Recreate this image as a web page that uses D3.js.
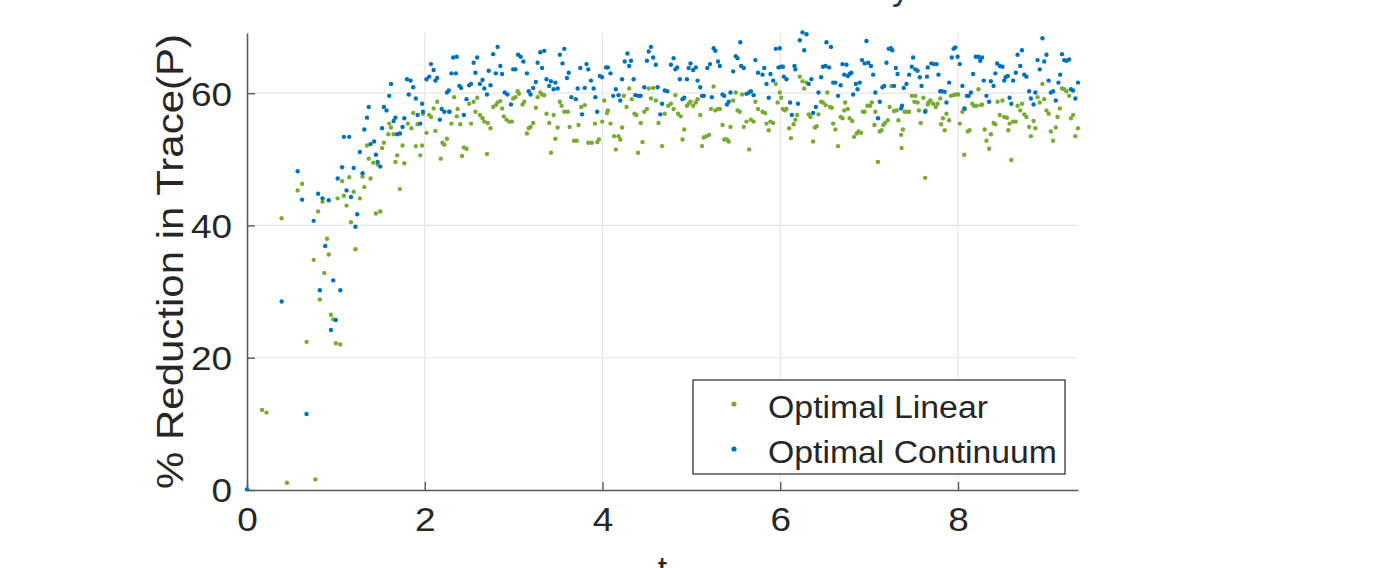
<!DOCTYPE html>
<html>
<head>
<meta charset="utf-8">
<script src="https://cdn.jsdelivr.net/npm/d3@7"></script>
<style>
  body { margin: 0; background: #fff; }
  text { font-family: "Liberation Sans", Arial, sans-serif; fill: #262626; }
</style>
</head>
<body>
<div id="chart"></div>
<script>
// series: [t, % reduction]
const linearPts = [
  [0.17,12.1],[0.22,11.7],[0.39,41.1],[0.45,1.1],[0.57,45.3],[0.62,46.3],[0.67,22.4],[0.75,34.8],[0.77,1.6],
  [0.80,42.1],[0.82,28.8],[0.85,43.6],[0.87,32.8],[0.90,38.0],[0.92,35.6],[0.945,26.5],[0.97,25.8],[1.00,22.2],
  [1.02,44.1],[1.05,22.0],[1.07,46.7],[1.09,44.5],[1.12,43.0],[1.15,47.3],[1.17,40.5],[1.20,45.1],[1.22,36.4],
  [1.27,44.1],[1.30,47.4],[1.32,45.8],[1.35,52.1],[1.37,50.1],[1.39,47.1],[1.42,49.5],[1.45,41.8],[1.47,49.2],
  [1.50,42.1],[1.52,51.7],[1.54,52.5],[1.59,53.8],[1.60,55.4],[1.62,54.8],[1.65,53.8],[1.67,49.6],[1.69,50.6],
  [1.72,45.5],[1.75,52.1],[1.77,49.4],[1.81,55.4],[1.85,54.7],[1.87,57.0],[1.90,52.0],[1.92,55.3],[1.95,50.6],
  [1.97,52.1],[1.98,56.9],
  [2.02,54.0],[2.05,56.7],[2.07,56.4],[2.10,57.7],[2.12,54.3],[2.14,58.7],[2.18,50.1],[2.20,52.5],[2.22,52.2],
  [2.25,53.1],[2.27,57.2],[2.30,55.4],[2.33,59.4],[2.36,56.5],[2.37,57.6],[2.40,55.3],[2.42,50.5],[2.44,51.8],
  [2.47,51.6],[2.50,58.4],[2.52,55.4],[2.55,58.7],[2.57,57.2],[2.59,59.3],[2.62,56.7],[2.65,56.2],[2.67,55.7],
  [2.70,50.8],[2.71,55.5],[2.74,54.7],[2.77,57.9],[2.80,58.2],[2.82,58.6],[2.85,58.8],[2.87,57.7],[2.89,56.5],
  [2.92,56.0],[2.95,55.7],[2.98,55.7],[2.995,59.2],[3.02,59.4],[3.045,60.3],[3.06,59.9],[3.10,58.3],[3.12,58.7],
  [3.15,53.9],[3.17,54.7],[3.19,54.9],[3.22,55.5],[3.25,57.8],[3.27,59.4],[3.30,60.1],[3.32,59.8],[3.345,59.7],
  [3.37,56.9],[3.40,55.5],[3.42,51.0],[3.45,56.7],[3.47,53.1],[3.495,54.8],[3.52,58.7],[3.54,58.1],[3.57,57.2],
  [3.61,57.2],[3.63,54.9],[3.68,52.8],[3.71,52.8],[3.73,55.2],[3.76,57.9],[3.80,58.2],[3.84,52.5],
  [3.88,52.5],[3.915,55.4],[3.94,52.6],[3.96,53.0],[3.997,55.7],[4.02,58.9],[4.05,57.0],[4.06,57.4],[4.09,55.4],
  [4.13,53.5],[4.15,51.5],[4.18,53.5],[4.20,53.0],[4.22,54.8],[4.24,59.6],[4.27,57.9],[4.30,60.7],[4.33,59.1],
  [4.36,56.9],[4.38,56.7],[4.40,51.0],[4.43,55.5],[4.45,52.6],[4.47,57.2],[4.50,57.6],[4.52,60.7],[4.545,59.2],
  [4.57,60.8],[4.60,58.9],[4.63,55.5],[4.67,52.0],[4.70,56.9],[4.74,58.1],[4.77,58.4],[4.80,57.6],[4.82,59.7],
  [4.85,56.9],[4.88,56.5],[4.90,53.0],[4.92,54.5],[4.95,58.1],[4.97,58.4],[4.99,58.7],[5.02,58.1],[5.05,58.6],
  [5.07,59.1],[5.10,56.7],[5.12,52.0],[5.14,53.3],[5.17,53.5],[5.20,53.7],[5.22,57.6],[5.25,61.0],[5.27,57.4],
  [5.30,57.6],[5.32,57.6],[5.35,55.2],[5.37,53.0],[5.40,53.0],[5.42,52.7],[5.44,54.9],[5.47,58.9],[5.50,60.1],
  [5.52,57.4],[5.545,57.2],[5.57,59.8],[5.59,54.9],[5.62,55.7],[5.65,51.5],[5.67,56.0],[5.70,55.7],[5.72,58.7],
  [5.75,57.6],
  [5.80,57.2],[5.83,57.0],[5.845,55.4],[5.87,54.4],[5.89,55.7],[5.92,55.5],[5.95,61.4],[5.97,58.6],[5.995,60.1],
  [6.01,59.3],[6.03,57.6],[6.05,57.4],[6.07,57.6],[6.10,54.7],[6.12,53.2],[6.15,55.3],[6.17,56.0],[6.19,56.7],
  [6.22,62.5],[6.25,61.8],[6.27,60.7],[6.295,61.6],[6.32,56.8],[6.34,56.4],[6.37,52.7],[6.39,54.8],[6.41,55.0],
  [6.43,56.8],[6.46,58.7],[6.48,58.6],[6.51,58.2],[6.53,60.1],[6.56,57.9],[6.58,57.8],[6.595,55.4],[6.62,54.5],
  [6.65,52.0],[6.68,56.4],[6.70,56.2],[6.72,57.4],[6.73,58.6],[6.76,57.6],[6.78,56.2],[6.81,55.8],[6.83,53.4],
  [6.86,53.9],[6.88,54.2],[6.91,54.0],[6.93,57.2],[6.95,57.2],[6.98,58.1],[7.01,58.1],[7.03,58.6],[7.06,55.2],
  [7.07,57.2],[7.10,49.6],[7.12,54.2],[7.14,54.4],[7.16,55.2],[7.18,55.5],[7.21,55.9],[7.23,57.9],[7.25,61.1],
  [7.28,57.3],[7.31,57.4],[7.33,55.9],[7.36,53.7],[7.365,51.7],[7.38,54.5],[7.40,57.2],[7.43,57.2],[7.45,57.2],
  [7.48,59.6],[7.51,58.7],[7.52,59.6],[7.545,58.6],[7.56,57.4],[7.58,55.5],[7.61,59.3],[7.63,47.2],[7.635,57.4],
  [7.66,58.3],[7.67,58.6],
  [7.69,58.9],[7.72,58.4],[7.75,57.9],[7.77,58.4],[7.80,59.2],[7.81,55.3],[7.83,56.2],[7.85,54.4],[7.87,56.9],
  [7.90,55.9],[7.92,59.6],[7.95,59.7],[7.97,59.8],[8.00,59.8],[8.02,55.4],[8.05,57.2],[8.07,50.7],[8.08,57.6],
  [8.11,54.2],[8.13,54.4],[8.16,58.4],[8.18,58.1],[8.21,58.1],[8.23,60.6],[8.26,58.2],[8.27,58.3],[8.30,54.5],
  [8.32,52.8],[8.35,51.6],[8.37,53.8],[8.40,55.5],[8.42,55.3],[8.445,58.7],[8.47,56.7],[8.50,58.9],[8.52,56.4],
  [8.55,56.3],[8.565,54.4],[8.58,55.4],[8.60,49.9],[8.62,55.7],[8.65,55.7],[8.67,58.1],[8.70,57.4],[8.72,58.4],
  [8.745,56.8],[8.77,56.4],[8.80,54.9],[8.82,53.5],[8.85,55.8],[8.87,54.7],[8.895,59.4],[8.92,58.6],[8.95,61.4],
  [8.97,59.1],[8.995,57.4],[9.02,56.9],[9.045,54.2],[9.07,52.8],[9.10,54.8],[9.12,56.4],[9.145,57.7],[9.17,60.7],
  [9.195,60.6],[9.22,60.3],[9.25,59.6],[9.27,56.2],[9.295,56.7],[9.32,53.5],[9.35,54.7]
];

const continuumPts = [
  [0.00,0.1],[0.39,28.5],[0.57,48.2],[0.62,43.9],[0.67,11.5],[0.75,40.7],[0.80,44.8],[0.82,30.2],[0.85,44.1],
  [0.88,36.9],[0.92,43.8],[0.945,24.2],[0.97,31.7],[1.00,25.7],[1.02,47.1],[1.05,30.2],[1.07,48.8],[1.09,53.4],
  [1.12,45.3],[1.15,53.4],[1.17,44.3],[1.20,48.7],[1.22,39.8],[1.24,41.7],[1.27,51.1],[1.30,47.9],[1.32,54.5],
  [1.35,56.3],[1.37,57.9],[1.39,52.3],[1.43,52.7],[1.45,50.7],[1.47,49.6],[1.50,48.9],[1.52,54.7],[1.54,57.9],
  [1.57,57.4],[1.60,59.6],[1.62,61.4],[1.65,55.8],[1.67,56.3],[1.69,53.8],[1.72,53.9],[1.75,54.9],[1.77,56.2],
  [1.80,62.1],[1.82,59.8],[1.84,61.9],[1.87,60.9],[1.90,59.2],[1.92,56.7],[1.95,55.4],[1.97,58.4],[1.98,57.2],
  [2.02,62.1],[2.05,62.5],[2.07,64.4],[2.10,63.5],[2.12,61.9],[2.14,62.3],[2.17,56.0],[2.19,57.6],[2.22,57.2],
  [2.25,60.1],[2.27,60.4],[2.28,57.2],[2.30,63.0],[2.32,65.4],[2.35,63.0],[2.36,65.5],[2.39,61.1],[2.41,60.8],
  [2.44,56.7],[2.47,59.1],[2.50,61.2],[2.52,61.4],[2.55,64.6],[2.57,63.1],[2.59,65.4],[2.62,61.4],[2.65,62.0],
  [2.67,60.7],[2.70,59.8],[2.72,63.4],[2.74,61.2],[2.77,65.9],[2.80,63.0],[2.82,67.0],[2.85,64.1],[2.87,62.9],
  [2.90,60.1],[2.93,59.8],[2.97,58.3],[2.995,63.6],[3.02,63.6],[3.05,65.8],[3.08,65.5],[3.11,64.8],[3.15,63.0],
  [3.17,60.3],[3.19,59.8],[3.22,60.8],[3.25,61.7],[3.27,64.6],[3.30,66.2],[3.32,63.8],[3.345,66.4],[3.37,62.1],
  [3.40,61.1],[3.42,61.8],[3.45,60.6],[3.47,61.6],[3.495,60.7],[3.52,65.8],[3.55,64.5],[3.57,66.7],[3.60,62.3],
  [3.62,63.1],[3.65,59.4],[3.70,59.1],[3.72,60.7],[3.75,63.8],[3.77,56.8],[3.80,60.8],[3.82,64.4],[3.84,63.6],
  [3.87,61.9],[3.90,60.7],[3.92,59.4],[3.94,57.2],[3.97,62.6],[3.995,62.4],[4.04,63.9],[4.06,63.9],[4.09,63.0],
  [4.12,59.6],[4.15,60.6],[4.18,59.7],[4.20,58.9],[4.22,62.1],[4.25,64.8],[4.28,66.0],[4.30,64.1],[4.32,64.9],
  [4.35,62.1],[4.37,59.7],[4.40,59.6],[4.43,59.6],[4.47,60.9],[4.50,64.9],[4.52,66.3],[4.545,67.0],[4.57,65.4],
  [4.60,64.3],[4.62,60.9],[4.65,56.8],[4.67,58.4],[4.70,60.4],[4.73,60.3],[4.77,64.3],[4.80,65.3],[4.82,63.6],
  [4.84,63.9],[4.87,62.1],[4.90,59.1],[4.92,59.3],[4.95,62.1],[4.97,63.8],[4.99,64.5],[5.02,63.5],[5.05,63.9],
  [5.07,61.9],[5.10,60.9],[5.12,59.6],[5.14,59.6],[5.18,63.8],[5.21,64.4],[5.23,59.4],[5.25,66.8],[5.27,66.4],
  [5.30,64.8],[5.32,64.1],[5.35,59.8],[5.37,59.6],[5.40,58.3],[5.42,58.7],[5.44,60.1],[5.47,63.3],[5.50,65.6],
  [5.52,65.3],[5.55,67.7],[5.56,64.1],[5.59,63.8],[5.62,59.9],[5.65,60.1],[5.67,60.3],[5.70,59.7],[5.72,65.0],
  [5.75,63.1],
  [5.80,62.8],[5.82,63.8],[5.845,61.4],[5.87,59.3],[5.89,62.9],[5.92,61.9],[5.95,66.7],[5.98,63.9],[5.995,66.8],
  [6.01,64.0],[6.03,64.0],[6.04,62.5],[6.07,62.1],[6.11,58.6],[6.13,56.7],[6.16,64.1],[6.17,63.6],[6.20,58.4],
  [6.22,68.0],[6.25,69.2],[6.27,66.5],[6.295,68.9],[6.32,61.4],[6.35,62.1],[6.37,57.0],[6.40,57.9],[6.43,60.1],
  [6.46,62.4],[6.48,64.0],[6.51,64.1],[6.52,67.7],[6.55,63.9],[6.57,67.0],[6.595,61.6],[6.62,61.6],[6.65,59.6],
  [6.68,61.2],[6.70,64.4],[6.72,62.8],[6.745,64.3],[6.76,62.6],[6.78,62.9],[6.80,63.1],[6.82,59.8],[6.85,61.4],
  [6.87,60.6],[6.895,61.6],[6.92,65.0],[6.95,64.5],[6.97,67.9],[6.99,64.6],[7.02,64.1],[7.045,62.8],[7.07,60.1],
  [7.10,56.2],[7.12,58.7],[7.15,60.9],[7.17,61.1],[7.195,64.6],[7.22,66.7],[7.245,66.8],[7.26,66.5],[7.28,61.1],
  [7.30,63.8],[7.32,62.9],[7.36,57.7],[7.37,58.1],[7.39,60.8],[7.42,61.4],[7.45,62.8],[7.48,64.0],[7.495,65.4],
  [7.52,63.6],[7.545,63.4],[7.57,62.4],[7.59,61.1],[7.63,57.2],[7.65,62.5],[7.66,63.9],
  [7.70,64.5],[7.73,64.4],[7.76,64.4],[7.78,62.8],[7.80,60.3],[7.82,60.3],[7.85,60.2],[7.87,58.6],[7.90,61.6],
  [7.93,65.4],[7.95,66.7],[7.97,66.9],[7.995,65.5],[8.02,64.4],[8.05,61.1],[8.07,57.7],[8.10,59.6],[8.12,59.6],
  [8.145,60.1],[8.17,62.9],[8.20,65.5],[8.23,65.5],[8.25,64.9],[8.27,65.4],[8.29,61.9],[8.32,59.6],[8.35,58.7],
  [8.37,61.8],[8.40,61.1],[8.42,63.0],[8.44,64.5],[8.47,64.1],[8.50,64.0],[8.52,61.9],[8.535,62.4],[8.56,62.6],
  [8.58,59.3],[8.60,58.4],[8.62,61.9],[8.65,63.1],[8.67,65.8],[8.70,64.1],[8.72,66.5],[8.745,62.8],[8.77,62.5],
  [8.80,60.3],[8.82,59.2],[8.85,58.3],[8.87,60.1],[8.895,65.0],[8.92,63.6],[8.95,68.3],[8.97,64.8],[8.995,65.8],
  [9.02,61.9],[9.045,60.1],[9.07,60.3],[9.10,58.9],[9.13,61.6],[9.15,62.8],[9.17,65.9],[9.195,65.0],[9.22,64.9],
  [9.25,65.1],[9.27,60.6],[9.295,60.4],[9.32,59.2],[9.35,61.6]
];

const xTicks = [0, 2, 4, 6, 8];
const yTicks = [0, 20, 40, 60];
const seriesNames = ["Optimal Linear", "Optimal Continuum"];
const seriesColors = ["#77ac30", "#0072bd"];

const W = 1385, H = 568;
const plotL = 247, plotR = 1078, plotT = 33, plotB = 490;

// the source picture is a little wider than tall in its lettering
const stretch = 1.12;
function widen(sel, k) {
    sel.each(function() {
        const w = this.getComputedTextLength();
        d3.select(this).attr("textLength", w * k).attr("lengthAdjust", "spacingAndGlyphs");
    });
}

const svg = d3.select("#chart").append("svg")
    .attr("width", W)
    .attr("height", H);

const x = d3.scaleLinear().domain([0, 9.35]).range([plotL, plotR]);
const y = d3.scaleLinear().domain([0, 69.1]).range([plotB, plotT]);

// grid
svg.append("g").selectAll("line")
    .data(xTicks.filter(d => d > 0))
    .enter().append("line")
    .attr("x1", d => x(d)).attr("x2", d => x(d))
    .attr("y1", plotT).attr("y2", plotB)
    .attr("stroke", "#e6e6e6").attr("stroke-width", 1.2);
svg.append("g").selectAll("line")
    .data(yTicks.filter(d => d > 0))
    .enter().append("line")
    .attr("x1", plotL).attr("x2", plotR)
    .attr("y1", d => y(d)).attr("y2", d => y(d))
    .attr("stroke", "#e6e6e6").attr("stroke-width", 1.2);

// axes
const xAxis = svg.append("g")
    .attr("transform", `translate(0,${plotB})`)
    .call(d3.axisBottom(x).tickValues(xTicks).tickSizeInner(-8).tickSizeOuter(0).tickPadding(18));
const yAxis = svg.append("g")
    .attr("transform", `translate(${plotL},0)`)
    .call(d3.axisLeft(y).tickValues(yTicks).tickSizeInner(-8).tickSizeOuter(0).tickPadding(15));

[xAxis, yAxis].forEach(a => {
    a.select(".domain").attr("stroke", "#5a5a5a").attr("stroke-width", 1.6);
    a.selectAll(".tick line").attr("stroke", "#5a5a5a").attr("stroke-width", 1.4);
    a.selectAll(".tick text")
        .attr("font-family", "Liberation Sans, Arial, sans-serif")
        .attr("font-size", 33).attr("fill", "#262626");
    widen(a.selectAll(".tick text"), stretch);
});
xAxis.selectAll(".tick text").attr("dy", "0.71em");
yAxis.selectAll(".tick text").attr("dy", "0.36em");

// points
const dots = svg.append("g");
dots.selectAll("circle.lin")
    .data(linearPts)
    .enter().append("circle")
    .attr("class", "lin")
    .attr("cx", d => x(d[0])).attr("cy", d => y(d[1]))
    .attr("r", 2.2).attr("fill", seriesColors[0]);
dots.selectAll("circle.con")
    .data(continuumPts)
    .enter().append("circle")
    .attr("class", "con")
    .attr("cx", d => x(d[0])).attr("cy", d => y(d[1]))
    .attr("r", 2.2).attr("fill", seriesColors[1]);

// axis labels
svg.append("text")
    .attr("transform", `translate(183,${(plotT + plotB) / 2}) rotate(-90)`)
    .attr("text-anchor", "middle")
    .attr("font-size", 37)
    .attr("textLength", 455)
    .attr("lengthAdjust", "spacingAndGlyphs")
    .text("% Reduction in Trace(P)");

svg.append("text")
    .attr("x", (plotL + plotR) / 2).attr("y", 580)
    .attr("text-anchor", "middle")
    .attr("font-size", 34)
    .text("t");

// title, cut off at the top edge
svg.append("text")
    .attr("x", 901).attr("y", -1)
    .attr("text-anchor", "middle")
    .attr("font-size", 36)
    .style("fill", "#2b3a55")
    .text("y");

// legend
const lg = svg.append("g");
lg.append("rect")
    .attr("x", 693).attr("y", 380).attr("width", 372).attr("height", 94)
    .attr("fill", "#fff").attr("stroke", "#262626").attr("stroke-width", 1.2);
const legendWidths = [220, 289];
seriesNames.forEach((name, i) => {
    lg.append("circle")
        .attr("cx", 734).attr("cy", 404 + i * 45)
        .attr("r", 2.6).attr("fill", seriesColors[i]);
    lg.append("text")
        .attr("x", 768).attr("y", 418 + i * 45)
        .attr("font-size", 31)
        .attr("textLength", legendWidths[i])
        .attr("lengthAdjust", "spacingAndGlyphs")
        .text(name);
});
</script>
</body>
</html>
